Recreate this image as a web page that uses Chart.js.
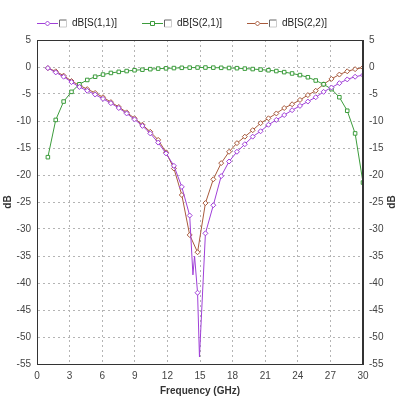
<!DOCTYPE html>
<html>
<head>
<meta charset="utf-8">
<script src="https://cdn.jsdelivr.net/npm/chart.js@4.4.0/dist/chart.umd.min.js"></script>
<style>
  html, body { margin: 0; padding: 0; background: #fff; }
  #wrap { width: 400px; height: 399px; }
</style>
</head>
<body>
<div id="wrap"><canvas id="miGrafico" width="400" height="399"></canvas></div>
<script>
// frecuencias (GHz) con marcador
const freq = [1, 1.725, 2.45, 3.175, 3.9, 4.625, 5.35, 6.075, 6.8, 7.525, 8.25, 8.975, 9.7, 10.425,
  11.15, 11.875, 12.6, 13.325, 14.05, 14.775, 15.5, 16.225, 16.95, 17.675, 18.4, 19.125, 19.85,
  20.575, 21.3, 22.025, 22.75, 23.475, 24.2, 24.925, 25.65, 26.375, 27.1, 27.825, 28.55, 29.275, 30];

const s11 = [-0.2, -1.0, -1.8, -2.8, -3.7, -4.4, -5.1, -5.9, -6.7, -7.6, -8.6, -9.7, -10.9, -12.3,
  -14.0, -16.0, -18.3, -22.2, -27.5, -41.8, -30.8, -25.6, -20.2, -17.5, -15.7, -14.3, -12.9,
  -11.9, -10.7, -9.8, -8.9, -8.0, -7.2, -6.4, -5.6, -4.6, -3.8, -3.0, -2.3, -1.8, -1.5];

// puntos extra de S11 cerca de la resonancia (sin marcador)
const s11DipFreq = [14.35, 14.5, 14.95];
const s11DipDb = [-38.5, -35.0, -53.7];

const s21 = [-16.7, -9.8, -6.4, -4.6, -3.2, -2.4, -1.8, -1.4, -1.1, -0.9, -0.75, -0.6, -0.5, -0.4,
  -0.3, -0.25, -0.2, -0.15, -0.12, -0.1, -0.1, -0.12, -0.15, -0.18, -0.22, -0.3, -0.38,
  -0.48, -0.6, -0.75, -0.95, -1.2, -1.5, -1.9, -2.5, -3.2, -4.1, -5.6, -8.1, -12.3, -21.4];

const s22 = [-0.2, -0.8, -1.6, -2.6, -3.4, -4.1, -4.8, -5.6, -6.5, -7.4, -8.4, -9.5, -10.7, -12.0,
  -13.5, -15.8, -18.8, -23.7, -31.1, -34.3, -25.2, -20.8, -17.8, -15.7, -14.1, -12.9, -11.7,
  -10.4, -9.5, -8.6, -7.6, -6.9, -6.1, -5.2, -4.4, -3.2, -2.2, -1.4, -0.8, -0.4, -0.1];

const etiquetas = ['dB[S(1,1)]', 'dB[S(2,1)]', 'dB[S(2,2)]'];
const colores = ['#a040d8', '#3c9c3c', '#a85a3c'];
const estilos = ['rectRot', 'rect', 'rectRot'];

const puntosS11 = freq.map((f, i) => ({ x: f, y: s11[i], marca: true }))
  .concat(s11DipFreq.map((f, i) => ({ x: f, y: s11DipDb[i], marca: false })))
  .sort((a, b) => a.x - b.x);
const puntosS21 = freq.map((f, i) => ({ x: f, y: s21[i], marca: true }));
const puntosS22 = freq.map((f, i) => ({ x: f, y: s22[i], marca: true }));

const familia = '"Liberation Sans", Arial, sans-serif';
const fuente = { family: familia, size: 10 };

function serie(i, datos) {
  return {
    label: etiquetas[i],
    data: datos,
    borderColor: colores[i],
    borderWidth: 1,
    pointStyle: estilos[i],
    pointRadius: ctx => (ctx.raw && ctx.raw.marca ? 2.5 : 0),
    pointBorderWidth: 1,
    pointBorderColor: colores[i],
    pointBackgroundColor: '#ffffff',
    tension: 0
  };
}

// marco, titulo derecho y leyenda dibujados a mano
const marcoYLeyenda = {
  id: 'marcoYLeyenda',
  afterDraw(chart) {
    const c = chart.ctx;
    const a = chart.chartArea;
    c.save();
    c.strokeStyle = '#333';
    c.lineWidth = 1;
    c.strokeRect(Math.round(a.left) + 0.5, Math.round(a.top) + 0.5,
      Math.round(a.right - a.left) - 1, Math.round(a.bottom - a.top));

    // titulo del eje derecho, mismo giro que el izquierdo
    c.save();
    c.translate(392, (a.top + a.bottom) / 2);
    c.rotate(-Math.PI / 2);
    c.font = 'bold 10px ' + familia;
    c.fillStyle = '#333';
    c.textAlign = 'center';
    c.textBaseline = 'middle';
    c.fillText('dB', 0, 0);
    c.restore();

    const xs = [37, 142, 247];
    const y = 23.5;
    c.font = '10px ' + familia;
    c.textBaseline = 'middle';
    xs.forEach((x0, i) => {
      c.strokeStyle = colores[i];
      c.beginPath();
      c.moveTo(x0, y);
      c.lineTo(x0 + 21, y);
      c.stroke();
      c.fillStyle = '#fff';
      c.beginPath();
      if (estilos[i] === 'rect') {
        c.rect(x0 + 8.5, y - 2, 4, 4);
      } else {
        c.moveTo(x0 + 10.5, y - 2.5);
        c.lineTo(x0 + 13, y);
        c.lineTo(x0 + 10.5, y + 2.5);
        c.lineTo(x0 + 8, y);
        c.closePath();
      }
      c.fill();
      c.stroke();
      // casilla
      c.strokeStyle = '#666';
      c.beginPath();
      c.moveTo(x0 + 22.5, y + 3.5);
      c.lineTo(x0 + 22.5, y - 3.5);
      c.lineTo(x0 + 29.5, y - 3.5);
      c.stroke();
      c.strokeStyle = '#ccc';
      c.beginPath();
      c.moveTo(x0 + 29.5, y - 3.5);
      c.lineTo(x0 + 29.5, y + 3.5);
      c.lineTo(x0 + 22.5, y + 3.5);
      c.stroke();
      c.fillStyle = '#222';
      c.textAlign = 'left';
      c.fillText(etiquetas[i], x0 + 35, y);
    });
    c.restore();
  }
};

const ctx = document.getElementById('miGrafico').getContext('2d');
const miGrafico = new Chart(ctx, {
  type: 'line',
  data: {
    datasets: [serie(0, puntosS11), serie(1, puntosS21), serie(2, puntosS22)]
  },
  options: {
    responsive: false,
    animation: false,
    layout: { padding: { top: 40, left: 0, right: 0, bottom: 0 } },
    plugins: { legend: { display: false }, tooltip: { enabled: false } },
    scales: {
      x: {
        type: 'linear',
        min: 0,
        max: 30,
        afterFit: s => { s.height = 35; },
        ticks: { stepSize: 3, color: '#444', font: fuente, padding: 6 },
        grid: { color: '#b4b4b4', drawTicks: false },
        border: { display: true, color: '#333', dash: [2, 3] },
        title: { display: true, text: 'Frequency (GHz)', color: '#333',
          font: { family: familia, size: 10, weight: 'bold' }, padding: { top: 0, bottom: 2 } }
      },
      y: {
        position: 'left',
        min: -55,
        max: 5,
        afterFit: s => { s.width = 37; },
        ticks: { stepSize: 5, color: '#444', font: fuente, padding: 6 },
        grid: { color: '#b4b4b4', drawTicks: false },
        border: { display: true, color: '#333', dash: [2, 3] },
        title: { display: true, text: 'dB', color: '#333',
          font: { family: familia, size: 10, weight: 'bold' }, padding: 2 }
      },
      y2: {
        position: 'right',
        min: -55,
        max: 5,
        afterFit: s => { s.width = 37; },
        ticks: { stepSize: 5, color: '#444', font: fuente, padding: 6 },
        grid: { display: false, drawTicks: false },
        border: { display: true, color: '#333' },
        title: { display: false }
      }
    }
  },
  plugins: [marcoYLeyenda]
});
</script>
</body>
</html>
